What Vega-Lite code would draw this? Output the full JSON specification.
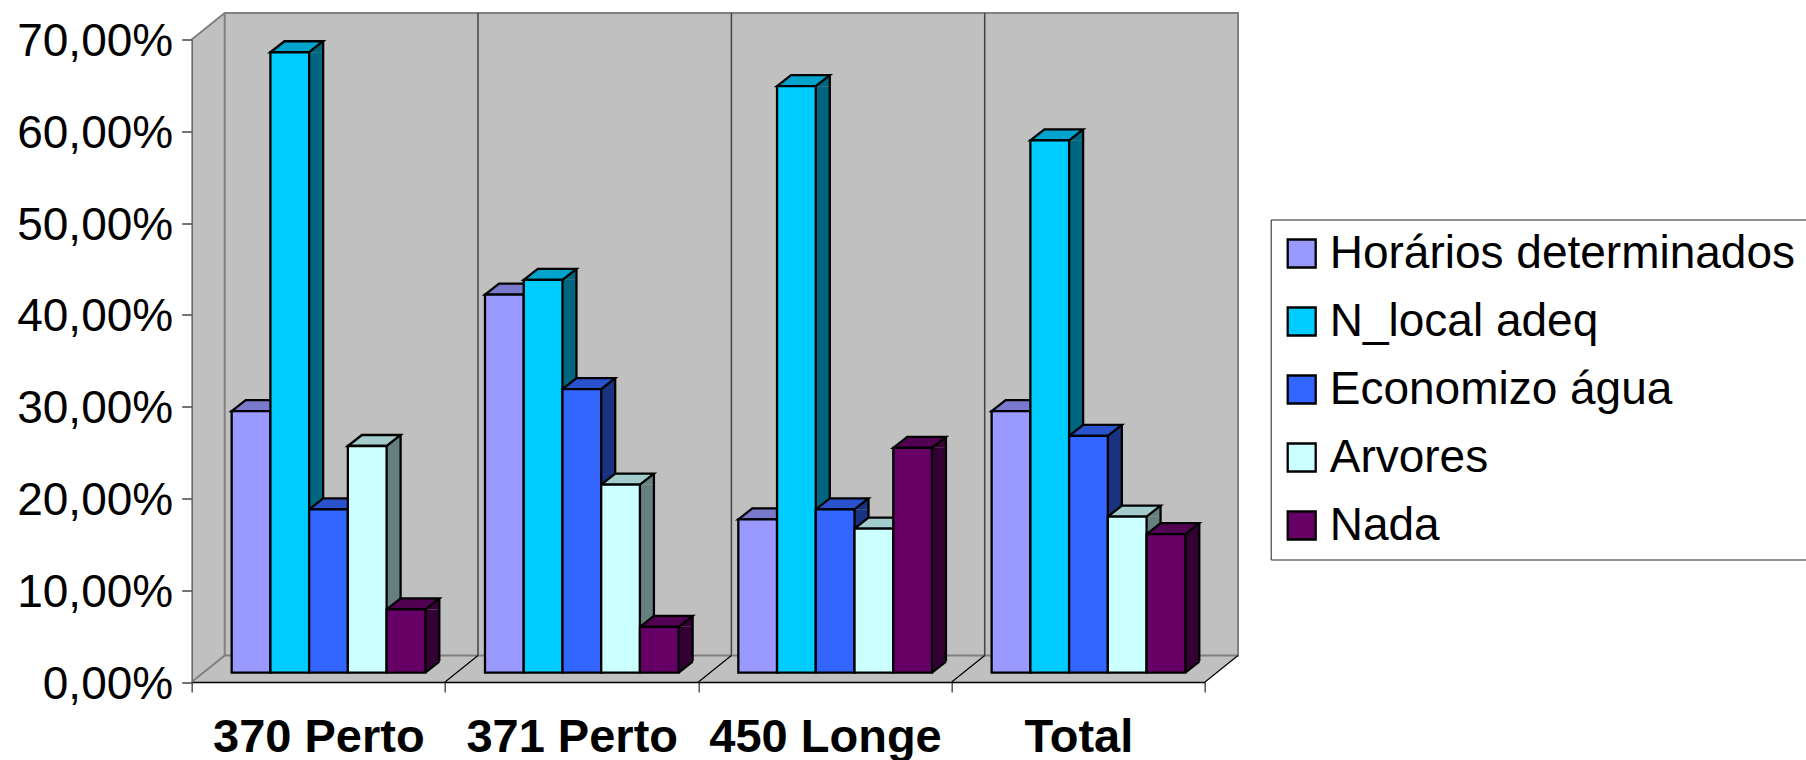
{
"$schema":"https://vega.github.io/schema/vega-lite/v6.json",
"width":1013.3,"height":642.5,
"autosize":{"type":"none"},
"padding":{"left":191.7,"top":39.5,"right":601,"bottom":78},
"background":"white",
"config":{"view":{"stroke":null},"font":"Liberation Sans"},
"datasets":{
"bars":[
{"grupo":"370 Perto","serie":"Horários determinados","valor":28.5},
{"grupo":"370 Perto","serie":"N_local adeq","valor":67.6},
{"grupo":"370 Perto","serie":"Economizo água","valor":17.8},
{"grupo":"370 Perto","serie":"Arvores","valor":24.7},
{"grupo":"370 Perto","serie":"Nada","valor":6.9},
{"grupo":"371 Perto","serie":"Horários determinados","valor":41.2},
{"grupo":"371 Perto","serie":"N_local adeq","valor":42.8},
{"grupo":"371 Perto","serie":"Economizo água","valor":30.9},
{"grupo":"371 Perto","serie":"Arvores","valor":20.5},
{"grupo":"371 Perto","serie":"Nada","valor":5.0},
{"grupo":"450 Longe","serie":"Horários determinados","valor":16.7},
{"grupo":"450 Longe","serie":"N_local adeq","valor":63.9},
{"grupo":"450 Longe","serie":"Economizo água","valor":17.8},
{"grupo":"450 Longe","serie":"Arvores","valor":15.7},
{"grupo":"450 Longe","serie":"Nada","valor":24.5},
{"grupo":"Total","serie":"Horários determinados","valor":28.5},
{"grupo":"Total","serie":"N_local adeq","valor":58.0},
{"grupo":"Total","serie":"Economizo água","valor":25.8},
{"grupo":"Total","serie":"Arvores","valor":17.0},
{"grupo":"Total","serie":"Nada","valor":15.1}
],
"wall":[{"parede":"fundo"}]
},
"resolve":{"scale":{"fill":"independent","stroke":"independent","xOffset":"independent"}},
"layer":[
{"data":{"name":"wall"},
 "mark":{"type":"point","filled":true,"size":4,"opacity":1,"fill":"#c0c0c0","shape":"M33 -26.5 L1046.3 -26.5 L1046.3 -669 L33 -669 Z M0 0 L33 -26.5 L33 -669 L0 -642.5 Z M0 0 L1013.3 0 L1046.3 -26.5 L33 -26.5 Z"},
 "encoding":{
  "x":{"datum":"370 Perto","type":"nominal","bandPosition":0,"scale":{"domain":["370 Perto","371 Perto","450 Longe","Total"],"paddingInner":0,"paddingOuter":0},
   "axis":{"title":null,"labelFontSize":47,"labelFontWeight":"bold","labelColor":"black","labelAngle":0,"labelPadding":22,"labelLimit":400,"tickBand":"extent","tickSize":10,"tickColor":"#555555","tickWidth":1.5,"domainColor":"black","domainWidth":1.5,"zindex":1}},
  "y":{"datum":0,"type":"quantitative","scale":{"domain":[0,70],"nice":false},
   "axis":{"title":null,"values":[0,10,20,30,40,50,60,70],"labelExpr":"replace(format(datum.value,'.2f'),'.',',')+'%'","labelFontSize":46,"labelColor":"black","labelPadding":9,"labelOffset":2,"tickSize":10,"tickColor":"#444444","tickWidth":1.5,"domainColor":"#666666","domainWidth":1.5,"grid":false,"zindex":1}}}},
{"data":{"name":"wall"},
 "mark":{"type":"point","filled":false,"size":4,"opacity":1,"stroke":"#808080","strokeWidth":2,"shape":"M0 -642.5 L33 -669 L1046.3 -669 L1046.3 -26.5 L33 -26.5 L0 0 M33 -26.5 L33 -669"},
 "encoding":{"x":{"datum":"370 Perto","type":"nominal","bandPosition":0},"y":{"datum":0,"type":"quantitative"}}},
{"data":{"name":"wall"},
 "mark":{"type":"point","filled":false,"size":4,"opacity":1,"stroke":"#444444","strokeWidth":1.5,"shape":"M286.3 -669 L286.3 -26.5 M539.7 -669 L539.7 -26.5 M793 -669 L793 -26.5"},
 "encoding":{"x":{"datum":"370 Perto","type":"nominal","bandPosition":0},"y":{"datum":0,"type":"quantitative"}}},
{"data":{"name":"wall"},
 "mark":{"type":"point","filled":false,"size":4,"opacity":1,"stroke":"black","strokeWidth":1.2,"shape":"M253.3 0 L286.3 -26.5 M506.7 0 L539.7 -26.5 M760 0 L793 -26.5 M1013.3 0 L1046.3 -26.5"},
 "encoding":{"x":{"datum":"370 Perto","type":"nominal","bandPosition":0},"y":{"datum":0,"type":"quantitative"}}},
{"data":{"name":"bars"},
 "mark":{"type":"rule","strokeWidth":14,"yOffset":-9.3,"y2Offset":-9.3},
 "encoding":{
  "x":{"field":"grupo","type":"nominal"},
  "xOffset":{"field":"serie","type":"nominal","scale":{"domain":["Horários determinados","N_local adeq","Economizo água","Arvores","Nada"],"range":[66.36,259.96],"paddingInner":0,"paddingOuter":0}},
  "y":{"field":"valor","type":"quantitative"},"y2":{"datum":0},
  "stroke":{"field":"serie","type":"nominal","legend":null,"scale":{"domain":["Horários determinados","N_local adeq","Economizo água","Arvores","Nada"],"range":["#4d4d80","#006680","#1a3380","#668080","#330033"]}}}},
{"data":{"name":"bars"},
 "mark":{"type":"point","filled":true,"size":4,"opacity":1,"yOffset":-9.3,"shape":"M19.35 0 L33.35 -11 L33.35 0 Z"},
 "encoding":{
  "x":{"field":"grupo","type":"nominal"},
  "xOffset":{"field":"serie","type":"nominal","scale":{"type":"band","domain":["Horários determinados","N_local adeq","Economizo água","Arvores","Nada"],"paddingInner":0,"paddingOuter":0.77,"align":0.67}},
  "y":{"field":"valor","type":"quantitative"},
  "fill":{"field":"serie","type":"nominal","legend":null,"scale":{"domain":["Horários determinados","N_local adeq","Economizo água","Arvores","Nada"],"range":["#4d4d80","#006680","#1a3380","#668080","#330033"]}}}},
{"data":{"name":"bars"},
 "mark":{"type":"rule","strokeWidth":2.3,"color":"black","yOffset":-20.3,"y2Offset":-20.3},
 "encoding":{
  "x":{"field":"grupo","type":"nominal"},
  "xOffset":{"field":"serie","type":"nominal","scale":{"domain":["Horários determinados","N_local adeq","Economizo água","Arvores","Nada"],"range":[73.36,266.96],"paddingInner":0,"paddingOuter":0}},
  "y":{"field":"valor","type":"quantitative"},"y2":{"datum":0}}},
{"data":{"name":"bars"},
 "mark":{"type":"point","filled":true,"size":4,"opacity":1,"yOffset":-9.3,"fill":"#c0c0c0","shape":"M19.35 0.9 L35 0.9 L35 -12 L33.35 -11 Z"},
 "encoding":{
  "x":{"field":"grupo","type":"nominal"},
  "xOffset":{"field":"serie","type":"nominal","scale":{"type":"band","domain":["Horários determinados","N_local adeq","Economizo água","Arvores","Nada"],"paddingInner":0,"paddingOuter":0.77,"align":0.67}},
  "y":{"datum":0,"type":"quantitative"}}},
{"data":{"name":"bars"},
 "mark":{"type":"point","filled":false,"size":4,"opacity":1,"yOffset":-9.3,"stroke":"black","strokeWidth":2.3,"shape":"M19.35 0 L33.35 -11"},
 "encoding":{
  "x":{"field":"grupo","type":"nominal"},
  "xOffset":{"field":"serie","type":"nominal","scale":{"type":"band","domain":["Horários determinados","N_local adeq","Economizo água","Arvores","Nada"],"paddingInner":0,"paddingOuter":0.77,"align":0.67}},
  "y":{"datum":0,"type":"quantitative"}}},
{"data":{"name":"bars"},
 "mark":{"type":"point","filled":true,"size":4,"opacity":1,"yOffset":-9.3,"stroke":"black","strokeWidth":2.3,"shape":"M-19.35 0 L-5.35 -11 L33.35 -11 L19.35 0 Z"},
 "encoding":{
  "x":{"field":"grupo","type":"nominal"},
  "xOffset":{"field":"serie","type":"nominal","scale":{"type":"band","domain":["Horários determinados","N_local adeq","Economizo água","Arvores","Nada"],"paddingInner":0,"paddingOuter":0.77,"align":0.67}},
  "y":{"field":"valor","type":"quantitative"},
  "fill":{"field":"serie","type":"nominal","legend":null,"scale":{"domain":["Horários determinados","N_local adeq","Economizo água","Arvores","Nada"],"range":["#7a7acc","#00a3cc","#2952cc","#a3cccc","#520052"]}}}},
{"data":{"name":"bars"},
 "mark":{"type":"bar","stroke":"black","strokeWidth":2.3,"yOffset":-9.3,"y2Offset":-9.3},
 "encoding":{
  "x":{"field":"grupo","type":"nominal"},
  "xOffset":{"field":"serie","type":"nominal","scale":{"domain":["Horários determinados","N_local adeq","Economizo água","Arvores","Nada"],"paddingInner":0,"paddingOuter":0.77,"align":0.67}},
  "y":{"field":"valor","type":"quantitative"},"y2":{"datum":0},
  "fill":{"field":"serie","type":"nominal","scale":{"domain":["Horários determinados","N_local adeq","Economizo água","Arvores","Nada"],"range":["#9999ff","#00ccff","#3366ff","#ccffff","#660066"]},
   "legend":{"title":null,"orient":"none","legendX":1079,"legendY":180,"padding":11,"fillColor":"white","strokeColor":"#222222","symbolType":"square","symbolSize":784,"symbolStrokeColor":"black","symbolStrokeWidth":2.3,"symbolOffset":-3,"labelFontSize":46,"labelColor":"black","labelOffset":5,"rowPadding":22,"labelLimit":600}}}}
]
}
